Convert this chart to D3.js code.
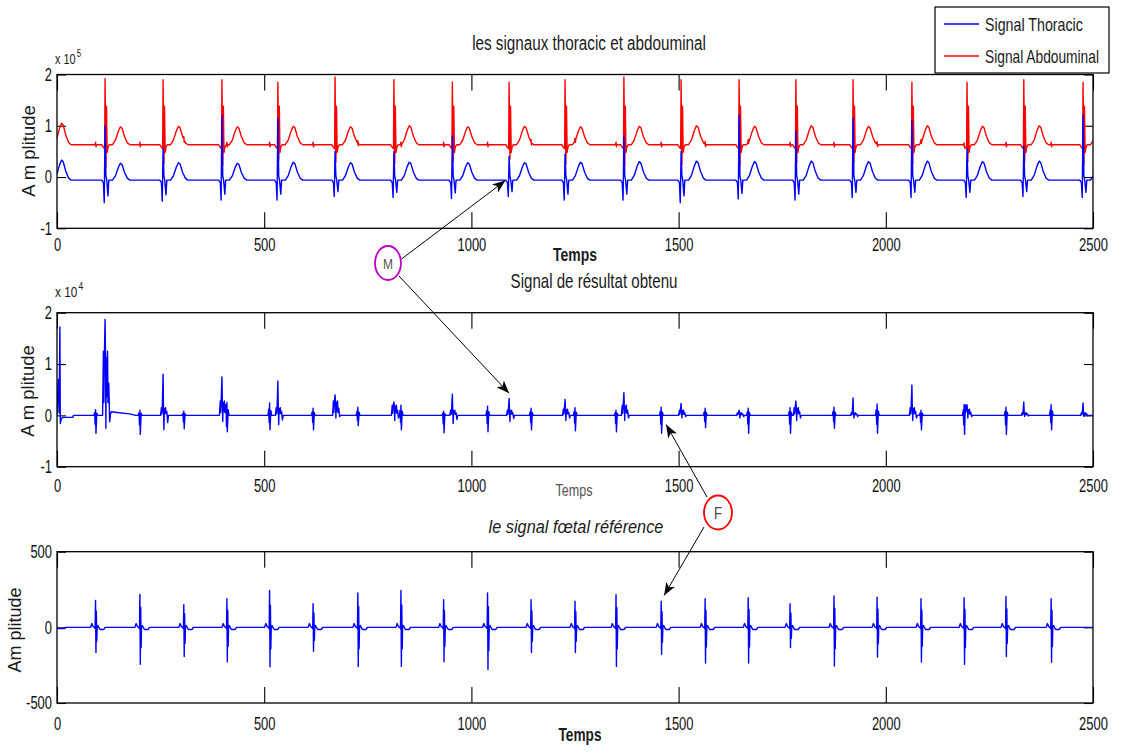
<!DOCTYPE html>
<html>
<head>
<meta charset="utf-8">
<script src="https://cdn.jsdelivr.net/npm/d3@7"></script>
<style>
  html, body { margin: 0; padding: 0; background: #fff; }
  svg { display: block; font-family: "Liberation Sans", Arial, sans-serif; }
</style>
</head>
<body>
<svg id="fig" width="1122" height="753"></svg>
<script>
// ---------------------------------------------------------------
// Time axis (samples)
const timeDomain = [0, 2500];
const timeTicks = [0, 500, 1000, 1500, 2000, 2500];

// Maternal heart beats: R-wave sample index (first beat precedes the record)
const maternalBeats = [-26, 116, 256, 398, 533, 671, 813, 954, 1091, 1226, 1368, 1506, 1646, 1783, 1921, 2063, 2196, 2333, 2476];
// Thoracic lead, x 1e5
const thoracicBaseline = -0.06;
const thoracicR = [1.0, 1.0, 0.55, 1.2, 1.15, 0.5, 0.5, 0.8, 0.4, 0.45, 0.8, 0.5, 1.2, 0.9, 1.15, 1.1, 0.55, 0.6, 1.2];
const thoracicS = [-0.45, -0.5, -0.47, -0.45, -0.45, -0.38, -0.4, -0.42, -0.38, -0.45, -0.45, -0.5, -0.43, -0.45, -0.4, -0.4, -0.4, -0.38, -0.4];
const thoracicT = [0.33, 0.27, 0.28, 0.27, 0.29, 0.28, 0.29, 0.28, 0.28, 0.29, 0.3, 0.31, 0.3, 0.31, 0.3, 0.31, 0.3, 0.31, 0.3];
// Abdominal lead, x 1e5
const abdominalBaseline = 0.63;
const abdominalR = [1.9, 1.92, 1.9, 1.9, 1.85, 1.95, 1.9, 1.85, 1.85, 1.9, 1.95, 1.9, 1.9, 1.9, 1.9, 1.85, 1.85, 1.9, 1.85];
const abdominalS = [0.25, 0.19, 0.26, 0.22, 0.32, 0.29, 0.26, 0.3, 0.35, 0.25, 0.22, 0.25, 0.22, 0.28, 0.3, 0.26, 0.3, 0.28, 0.25];
const abdominalT = [1.05, 0.98, 0.99, 0.98, 0.99, 0.98, 1.0, 0.98, 0.99, 0.98, 0.99, 1.0, 0.99, 1.0, 0.99, 1.0, 0.99, 1.0, 0.99];

// Fetal heart beats: R-wave sample index
const fetalBeats = [93, 200, 306, 410, 513, 618, 726, 830, 933, 1039, 1144, 1250, 1349, 1458, 1564, 1668, 1769, 1875, 1979, 2085, 2189, 2290, 2399];
// Reference fetal signal: R and S amplitudes
const fetalR = [178, 218, 149, 189, 244, 156, 227, 244, 182, 227, 182, 173, 216, 173, 189, 196, 156, 207, 200, 189, 196, 204, 189];
const fetalS = [-167, -244, -193, -227, -260, -158, -258, -258, -227, -278, -167, -167, -258, -178, -236, -236, -133, -256, -196, -229, -244, -193, -231];

// Extracted signal, x 1e4: residue at each fetal beat
const fetalResidualUp = [0.11, 0.10, 0.08, 0.28, 0.24, 0.14, 0.16, 0.2, 0.08, 0.18, 0.14, 0.15, 0.1, 0.16, 0.14, 0.14, 0.15, 0.16, 0.22, 0.1, 0.21, 0.16, 0.21];
const fetalResidualDown = [-0.35, -0.37, -0.26, -0.32, -0.28, -0.28, -0.2, -0.28, -0.34, -0.32, -0.28, -0.3, -0.32, -0.35, -0.24, -0.35, -0.35, -0.25, -0.35, -0.28, -0.37, -0.37, -0.28];
// ... and residue left at each maternal beat
const maternalResidualPeak = [0, 1.87, 0.80, 0.75, 0.67, 0.40, 0.26, 0.41, 0.33, 0.31, 0.44, 0.23, 0.10, 0.28, 0.34, 0.59, 0.21, 0.26, 0.24];
const maternalResidualPlateau = [0, 1.25, 0.15, 0.28, 0.15, 0.28, 0.2, 0.1, 0.1, 0.12, 0.2, 0.1, 0.05, 0.15, 0.05, 0.15, 0.12, 0.05, 0.05];
const maternalResidualDip = [0, -0.25, -0.28, -0.12, -0.18, -0.05, -0.1, -0.16, -0.12, -0.1, -0.1, -0.05, -0.05, -0.1, -0.05, -0.1, -0.05, -0.02, -0.02];
// start-up transient of the extraction filter: [sample, value x 1e4]
const resultOnset = [[0, 0], [3, 0.7], [5, 0.05], [7, 1.72], [8, -0.16], [10, -0.08], [13, -0.04], [38, -0.04], [40, 0]];
const resultSettling = [[128, 0], [131, 0.07], [150, 0.05], [175, 0.03], [190, 0]];
const referenceOnset = [[0, 0], [1, -8], [18, -8], [20, 0]];

// Waveform shapes (sample offset from the R wave)
const tWaveShape = [[18, 0], [25, 0.25], [32, 0.75], [37, 1], [41, 0.92], [47, 0.45], [54, 0.1], [60, 0]];

// ---------------------------------------------------------------
function pieceAt(knots, t) {
  const n = knots.length;
  if (t < knots[0][0] || t > knots[n - 1][0]) return 0;
  for (let i = 1; i < n; i++) {
    if (t <= knots[i][0]) {
      const [t0, v0] = knots[i - 1], [t1, v1] = knots[i];
      return t1 === t0 ? v1 : v0 + (v1 - v0) * (t - t0) / (t1 - t0);
    }
  }
  return 0;
}
const place = (beat, shape) => shape.map(([dt, v]) => [beat + dt, v]);
function assemble(baseline, components) {
  const set = new Set(timeDomain);
  components.forEach(c => c.forEach(([t]) => { if (t > timeDomain[0] && t < timeDomain[1]) set.add(t); }));
  return Array.from(set).sort((a, b) => a - b)
    .map(t => [t, baseline + d3.sum(components, c => pieceAt(c, t))]);
}

const thoracicParts = [];
const abdominalParts = [];
maternalBeats.forEach((b, i) => {
  const B = thoracicBaseline, S = thoracicS[i] - B, R = thoracicR[i] - B;
  thoracicParts.push(place(b, [[-8, 0], [-4, -0.05], [-2, S], [0, R], [2, 0.08], [4, 0], [7, 0.7 * S], [9, 0]]));
  thoracicParts.push(place(b, tWaveShape.map(([dt, f]) => [dt, f * (thoracicT[i] - B)])));
  const A = abdominalBaseline;
  abdominalParts.push(place(b, [[-8, 0], [-4, -0.05], [-1, -0.08], [0, abdominalR[i] - A], [2, abdominalS[i] - A], [3.5, 0.75], [5, -0.15], [7, -0.05], [10, 0]]));
  abdominalParts.push(place(b, tWaveShape.map(([dt, f]) => [dt, f * (abdominalT[i] - A)])));
});
fetalBeats.forEach(b => abdominalParts.push(place(b, [[-1, 0], [0, 0.05], [1, -0.04], [2, 0]])));

const resultParts = [resultOnset, resultSettling];
fetalBeats.forEach((b, i) => {
  const u = fetalResidualUp[i], d = fetalResidualDown[i];
  resultParts.push(place(b, [[-4, 0], [-2, 0.5 * u], [-1, 0.5 * d], [0, u], [1, d], [3, 0.4 * u], [5, 0]]));
});
maternalBeats.forEach((b, i) => {
  const pk = maternalResidualPeak[i], p = maternalResidualPlateau[i], dp = maternalResidualDip[i];
  if (pk === 0) return;
  resultParts.push(place(b, [[-6, 0], [-4, p], [-3, 0.2 * p], [-2, 0.8 * p], [0, pk], [1, p], [2, dp], [3, 0.9 * p], [4, 0.3 * p], [6, p], [7, 0.2 * p], [9, 0.5 * p], [11, 0.5 * dp], [13, 0]]));
});

const referenceParts = [referenceOnset];
fetalBeats.forEach((b, i) => {
  const R = fetalR[i], S = fetalS[i];
  referenceParts.push(place(b, [[-12, 0], [-9, 25], [-6, 5], [-3, 0], [-1, -8], [0, R], [1, S], [2, 0.6 * R], [3, 0.55 * S], [4, 0], [6, 12], [8, 0], [11, -14], [20, -14], [23, 0]]));
});

const thoracic = assemble(thoracicBaseline, thoracicParts);
const abdominal = assemble(abdominalBaseline, abdominalParts);
const result = assemble(0, resultParts);
const reference = assemble(0, referenceParts);

// ---------------------------------------------------------------
const svg = d3.select('#fig');
svg.append('rect').attr('width', 1122).attr('height', 753).attr('fill', '#fff');

const x = d3.scaleLinear().domain(timeDomain).range([57, 1093]);
const SQUEEZE = 0.7;
const FONT = '"Liberation Sans", Arial, sans-serif';

const defs = svg.append('defs');
defs.append('marker').attr('id', 'head').attr('viewBox', '-14 -6 16 12')
  .attr('refX', 0).attr('refY', 0).attr('markerWidth', 16).attr('markerHeight', 12)
  .attr('markerUnits', 'userSpaceOnUse').attr('orient', 'auto')
  .append('path').attr('d', 'M0,0 L-13,-5 L-9.5,0 L-13,5 Z').attr('fill', '#000');

function panel(id, top, bottom, domain, ticks, labelPad) {
  const y = d3.scaleLinear().domain(domain).range([bottom, top]);
  const g = svg.append('g');
  defs.append('clipPath').attr('id', 'clip-' + id).append('rect')
    .attr('x', x.range()[0]).attr('y', top).attr('width', x.range()[1] - x.range()[0]).attr('height', bottom - top);
  const fmt = d => String(d);
  const styleAxis = sel => sel.attr('font-family', FONT).attr('font-size', 18.5)
    .call(s => s.select('.domain').remove())
    .call(s => s.selectAll('.tick line').attr('stroke', '#000').attr('stroke-width', 1.1));

  const gb = g.append('g').attr('transform', `translate(0,${bottom})`)
    .call(d3.axisBottom(x).tickValues(timeTicks).tickFormat(fmt).tickSizeInner(-16).tickSizeOuter(0).tickPadding(labelPad))
    .call(styleAxis);
  gb.selectAll('.tick text').attr('fill', '#111').attr('transform', `scale(${SQUEEZE},1)`);
  g.append('g').attr('transform', `translate(0,${top})`)
    .call(d3.axisTop(x).tickValues(timeTicks).tickFormat('').tickSizeInner(-16).tickSizeOuter(0))
    .call(styleAxis);
  const gl = g.append('g').attr('transform', `translate(${x.range()[0]},0)`)
    .call(d3.axisLeft(y).tickValues(ticks).tickFormat(fmt).tickSizeInner(-9).tickSizeOuter(0).tickPadding(5))
    .call(styleAxis);
  gl.selectAll('.tick text').attr('fill', '#111').attr('x', -5 / SQUEEZE).attr('transform', `scale(${SQUEEZE},1)`);
  g.append('g').attr('transform', `translate(${x.range()[1]},0)`)
    .call(d3.axisRight(y).tickValues(ticks).tickFormat('').tickSizeInner(-9).tickSizeOuter(0))
    .call(styleAxis);

  const plot = g.append('g').attr('clip-path', `url(#clip-${id})`);
  g.append('rect').attr('x', x.range()[0]).attr('y', top)
    .attr('width', x.range()[1] - x.range()[0]).attr('height', bottom - top)
    .attr('fill', 'none').attr('stroke', '#000').attr('stroke-width', 1.3);
  return { y, plot };
}

function trace(p, data, color) {
  p.plot.append('path').datum(data)
    .attr('d', d3.line().x(d => x(d[0])).y(d => p.y(d[1])))
    .attr('fill', 'none').attr('stroke', color).attr('stroke-width', 1.4)
    .attr('stroke-linejoin', 'round').attr('stroke-linecap', 'round');
}

// Text placed at (xp, yp); squeezed horizontally to the given width when one is set
function text(xp, yp, str, o = {}, parent = svg) {
  const t = parent.append('text').text(str)
    .attr('font-family', FONT).attr('font-size', o.size || 18)
    .attr('text-anchor', o.anchor || 'middle').attr('fill', o.fill || '#1a1a1a');
  if (o.weight) t.attr('font-weight', o.weight);
  if (o.italic) t.attr('font-style', 'italic');
  if (o.sup) t.append('tspan').attr('font-size', o.sup[1]).attr('dy', o.sup[2]).attr('dx', 1.5).text(o.sup[0]);
  let k = 1;
  if (o.width) k = o.width / t.node().getComputedTextLength();
  t.attr('transform', `translate(${xp},${yp})` + (o.rotate ? ' rotate(-90)' : '') + ` scale(${k},1)`);
  return t;
}

// Panel 1: thoracic and abdominal leads
const p1 = panel('a', 74.5, 228.3, [-1, 2], [-1, 0, 1, 2], 9.2);
trace(p1, abdominal, '#ff0000');
trace(p1, thoracic, '#0000ff');

// Panel 2: extracted signal
const p2 = panel('b', 312.7, 466.7, [-1, 2], [-1, 0, 1, 2], 11.8);
trace(p2, result, '#0000ff');

// Panel 3: reference fetal signal
const p3 = panel('c', 551.7, 703, [-500, 500], [-500, 0, 500], 13.5);
trace(p3, reference, '#0000ff');

// Titles, axis labels, exponents
text(589, 50, 'les signaux thoracic et abdouminal', { size: 20, width: 234 });
text(55, 64, 'x 10', { size: 14, anchor: 'start', width: 25, sup: ['5', 10, -7] });
text(575, 261, 'Temps', { size: 18, weight: 'bold', width: 44 });
text(35, 151, 'A m plitude', { size: 18.5, rotate: true });

text(594, 288, 'Signal de résultat obtenu', { size: 20, width: 167 });
text(55, 297, 'x 10', { size: 14, anchor: 'start', width: 27, sup: ['4', 10, -7] });
text(574, 496, 'Temps', { size: 16, width: 37, fill: '#555' });
text(34, 391, 'A m plitude', { size: 18.5, rotate: true });

text(576, 533, 'le signal fœtal référence', { size: 18, width: 175, italic: true });
text(580, 741, 'Temps', { size: 19, weight: 'bold', width: 43 });
text(21, 630, 'Am plitude', { size: 18, rotate: true });

// Legend
const legend = svg.append('g');
legend.append('rect').attr('x', 935).attr('y', 7).attr('width', 174).attr('height', 66)
  .attr('fill', '#fff').attr('stroke', '#000').attr('stroke-width', 1.2);
[['Signal Thoracic', '#0000ff', 24, 98], ['Signal Abdouminal', '#ff0000', 56, 114]].forEach(([name, c, yy, w]) => {
  legend.append('line').attr('x1', 944).attr('x2', 979).attr('y1', yy).attr('y2', yy)
    .attr('stroke', c).attr('stroke-width', 1.4);
  text(985, yy + 7, name, { size: 18, anchor: 'start', width: w }, legend);
});

// Annotations: maternal (M) and fetal (F) complexes
function arrow(x1, y1, x2, y2) {
  svg.append('line').attr('x1', x1).attr('y1', y1).attr('x2', x2).attr('y2', y2)
    .attr('stroke', '#000').attr('stroke-width', 1).attr('marker-end', 'url(#head)');
}
arrow(401.5, 259, x(1082), p1.y(-0.07));
arrow(399, 276, x(1091), p2.y(0.43));
arrow(707, 497, x(1470), p2.y(-0.18));
arrow(704, 527, x(1465), p3.y(211));

svg.append('ellipse').attr('cx', 388).attr('cy', 263).attr('rx', 13).attr('ry', 17)
  .attr('fill', '#fff').attr('stroke', '#c000c0').attr('stroke-width', 1.8);
text(388, 268.5, 'M', { size: 14, fill: '#555', width: 10 });
svg.append('ellipse').attr('cx', 718).attr('cy', 512.5).attr('rx', 14).attr('ry', 17)
  .attr('fill', '#fff').attr('stroke', '#ff0000').attr('stroke-width', 1.8);
text(718, 518.5, 'F', { size: 16, fill: '#445', width: 8 });
</script>
</body>
</html>
